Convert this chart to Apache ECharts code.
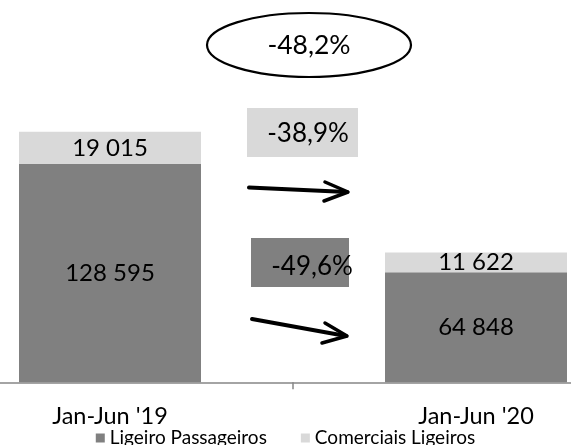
<!DOCTYPE html>
<html>
<head>
<meta charset="utf-8">
<script src="https://cdn.jsdelivr.net/npm/echarts@6/dist/echarts.min.js"></script>
<style>
html,body{margin:0;padding:0;background:#fff;}
#chart{width:571px;height:445px;}
</style>
</head>
<body>
<div id="chart"></div>
<script>
var categories = ["Jan-Jun '19", "Jan-Jun '20"];
var seriesNames = ["Ligeiro Passageiros", "Comerciais Ligeiros"];
var passageiros = [128595, 64848];
var comerciais = [19015, 11622];

function fmt(v) {
  return String(v).replace(/\B(?=(\d{3})+(?!\d))/g, ' ');
}
function pct(a, b) {
  return ((b / a - 1) * 100).toFixed(1).replace('.', ',') + '%';
}
var totalChange = pct(passageiros[0] + comerciais[0], passageiros[1] + comerciais[1]);
var comChange = pct(comerciais[0], comerciais[1]);
var passChange = pct(passageiros[0], passageiros[1]);

var FONT = 'Lato';
var chart = echarts.init(document.getElementById('chart'), null, {renderer: 'canvas'});
chart.setOption({
  animation: false,
  textStyle: {fontFamily: FONT},
  grid: {left: -73, right: -88, top: 42.8, bottom: 62.7, containLabel: false, outerBoundsMode: 'none'},
  legend: {
    data: seriesNames,
    top: 423,
    left: 'center',
    itemWidth: 9,
    itemHeight: 9,
    itemGap: 34,
    icon: 'rect',
    textStyle: {fontFamily: FONT, fontSize: 19, color: '#000', lineHeight: 20}
  },
  xAxis: {
    type: 'category',
    data: categories,
    axisLine: {lineStyle: {color: '#868686', width: 1.5}},
    axisTick: {show: true, length: 7, lineStyle: {color: '#868686', width: 1.5}},
    axisLabel: {fontFamily: FONT, fontSize: 23.5, color: '#000', margin: 22}
  },
  yAxis: {type: 'value', min: 0, max: 200000, show: false},
  series: [
    {
      name: seriesNames[0], type: 'bar', stack: 'total', data: passageiros,
      barWidth: 182,
      itemStyle: {color: '#808080'},
      label: {show: true, position: 'inside', fontFamily: FONT, fontSize: 24, color: '#000',
        formatter: function (p) { return fmt(p.value); }}
    },
    {
      name: seriesNames[1], type: 'bar', stack: 'total', data: comerciais,
      barWidth: 182,
      itemStyle: {color: '#d9d9d9'},
      label: {show: true, position: 'inside', fontFamily: FONT, fontSize: 24, color: '#000',
        formatter: function (p) { return fmt(p.value); }}
    }
  ],
  graphic: [
    {type: 'ellipse', shape: {cx: 309, cy: 45, rx: 102, ry: 32},
     style: {fill: '#fff', stroke: '#000', lineWidth: 2.2}},
    {type: 'text', x: 309, y: 45,
     style: {text: totalChange, font: '26.5px Lato', fill: '#000', textAlign: 'center', textVerticalAlign: 'middle'}},
    {type: 'rect', shape: {x: 247, y: 108, width: 111, height: 49},
     style: {fill: '#d9d9d9'}},
    {type: 'text', x: 308, y: 134,
     style: {text: comChange, font: '26px Lato', fill: '#000', textAlign: 'center', textVerticalAlign: 'middle'}},
    {type: 'rect', shape: {x: 251, y: 238, width: 98, height: 49},
     style: {fill: '#808080'}},
    {type: 'text', x: 312, y: 267,
     style: {text: passChange, font: '26px Lato', fill: '#000', textAlign: 'center', textVerticalAlign: 'middle'}},
    {type: 'polyline', shape: {points: [[249, 187.5], [347, 192]]},
     style: {stroke: '#000', lineWidth: 4, lineCap: 'round', fill: null}},
    {type: 'polyline', shape: {points: [[325, 182], [348, 192], [324, 201]]},
     style: {stroke: '#000', lineWidth: 3.5, lineCap: 'round', lineJoin: 'round', fill: null}},
    {type: 'polyline', shape: {points: [[252, 319], [346, 336]]},
     style: {stroke: '#000', lineWidth: 4, lineCap: 'round', fill: null}},
    {type: 'polyline', shape: {points: [[325, 323], [347, 336], [322, 343]]},
     style: {stroke: '#000', lineWidth: 3.5, lineCap: 'round', lineJoin: 'round', fill: null}}
  ]
});
</script>
</body>
</html>
